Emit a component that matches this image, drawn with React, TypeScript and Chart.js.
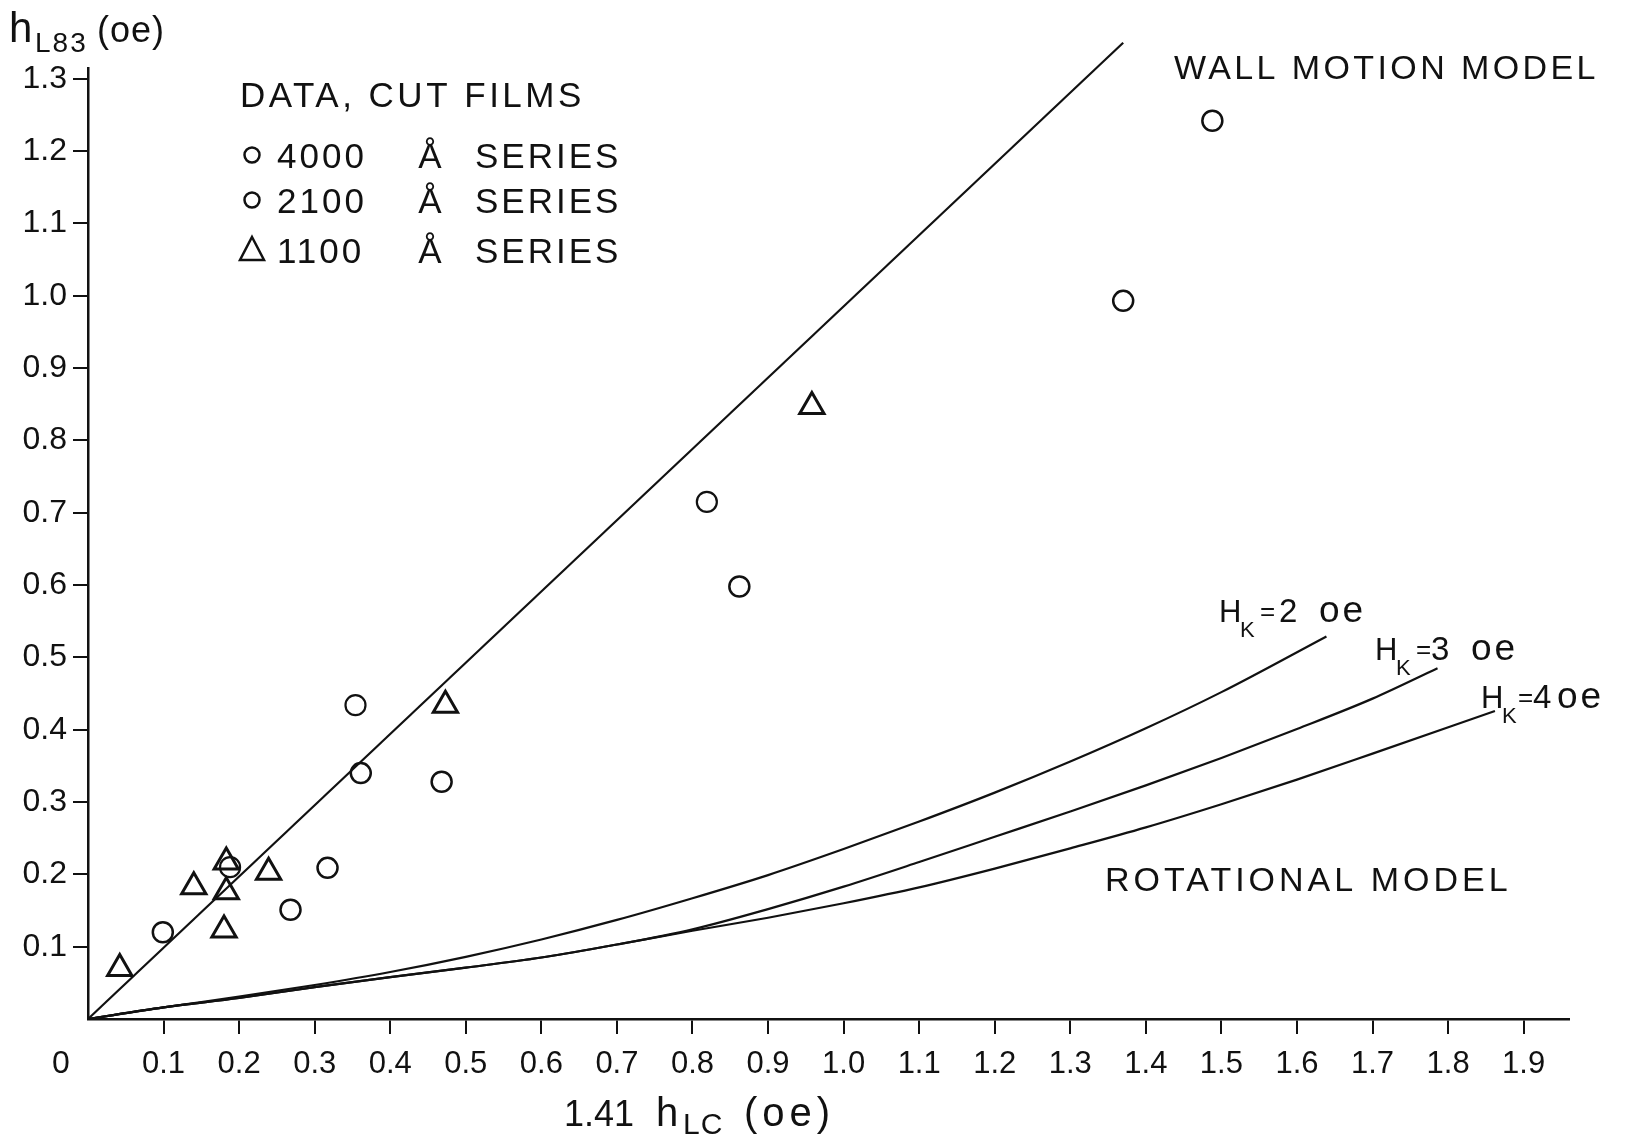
import { useEffect, useRef } from "react";
import { Chart, registerables } from "chart.js";

Chart.register(...registerables);

// Measured points, cut films
const series4000X = [0.099, 0.268, 0.317, 0.361, 0.468, 0.862, 1.37, 1.488];
const series4000Y = [0.12, 0.151, 0.209, 0.34, 0.328, 0.598, 0.993, 1.242];
const series2100X = [0.188, 0.354, 0.819];
const series2100Y = [0.21, 0.434, 0.715];
const series1100X = [0.042, 0.14, 0.183, 0.18, 0.183, 0.239, 0.473, 0.958];
const series1100Y = [0.07, 0.183, 0.176, 0.123, 0.217, 0.203, 0.434, 0.847];

// Wall motion model (straight line through the origin)
const wallMotionX = [0, 1.37];
const wallMotionY = [0, 1.35];

// Rotational model curves
const hk2X = [0, 0.1, 0.2, 0.3, 0.4, 0.5, 0.6, 0.7, 0.8, 0.9, 1.0, 1.1, 1.2, 1.3, 1.4, 1.5, 1.639];
const hk2Y = [0, 0.016, 0.031, 0.047, 0.065, 0.086, 0.11, 0.137, 0.167, 0.199, 0.235, 0.273, 0.313, 0.356, 0.402, 0.452, 0.529];
const hk3X = [0, 0.1, 0.2, 0.3, 0.4, 0.5, 0.6, 0.7, 0.8, 0.9, 1.0, 1.1, 1.2, 1.3, 1.4, 1.5, 1.6, 1.7, 1.786];
const hk3Y = [0, 0.016, 0.029, 0.044, 0.058, 0.071, 0.085, 0.103, 0.124, 0.152, 0.183, 0.217, 0.252, 0.287, 0.323, 0.361, 0.401, 0.443, 0.485];
const hk4X = [0, 0.1, 0.2, 0.3, 0.4, 0.5, 0.6, 0.7, 0.8, 0.9, 1.0, 1.1, 1.2, 1.3, 1.4, 1.5, 1.6, 1.7, 1.862];
const hk4Y = [0, 0.016, 0.029, 0.044, 0.058, 0.071, 0.085, 0.103, 0.122, 0.14, 0.16, 0.182, 0.208, 0.236, 0.265, 0.297, 0.331, 0.367, 0.426];

// Axis ticks
const xTickValues = [0.1, 0.2, 0.3, 0.4, 0.5, 0.6, 0.7, 0.8, 0.9, 1.0, 1.1, 1.2, 1.3, 1.4, 1.5, 1.6, 1.7, 1.8, 1.9];
const xTickLabels = ["0.1", "0.2", "0.3", "0.4", "0.5", "0.6", "0.7", "0.8", "0.9", "1.0", "1.1", "1.2", "1.3", "1.4", "1.5", "1.6", "1.7", "1.8", "1.9"];
const yTickValues = [0.1, 0.2, 0.3, 0.4, 0.5, 0.6, 0.7, 0.8, 0.9, 1.0, 1.1, 1.2, 1.3];
const yTickLabels = ["0.1", "0.2", "0.3", "0.4", "0.5", "0.6", "0.7", "0.8", "0.9", "1.0", "1.1", "1.2", "1.3"];

// Anisotropy field of each rotational curve
const hkValues = ["2", "3", "4"];

const FONT = "'Liberation Sans', 'DejaVu Sans', sans-serif";
const INK = "#111";

const pts = (xs: number[], ys: number[]) => xs.map((x, i) => ({ x, y: ys[i] }));

function text(
  ctx: CanvasRenderingContext2D,
  s: string,
  x: number,
  y: number,
  size: number,
  spacing = 0,
  align: CanvasTextAlign = "left"
) {
  ctx.font = `${size}px ${FONT}`;
  (ctx as any).letterSpacing = `${spacing}px`;
  ctx.textAlign = align;
  ctx.textBaseline = "alphabetic";
  ctx.fillText(s, x, y);
}

const figureText = {
  id: "figureText",
  afterDraw(chart: Chart) {
    const ctx = chart.ctx;
    ctx.save();
    ctx.fillStyle = INK;
    ctx.strokeStyle = INK;

    // y-axis title: h_L83 (oe)
    text(ctx, "h", 9, 42, 42);
    text(ctx, "L83", 35, 52, 28, 2);
    text(ctx, "(oe)", 97, 42, 36, 1);

    // x-axis title: 1.41 h_LC (oe)
    text(ctx, "1.41", 634, 1126, 36, 0, "right");
    text(ctx, "h", 656, 1126, 40);
    text(ctx, "LC", 683, 1134, 30, 1);
    text(ctx, "(oe)", 744, 1126, 40, 5);

    // origin label
    text(ctx, "0", 61, 1073, 32, 0, "center");

    // legend block
    text(ctx, "DATA, CUT FILMS", 240, 107, 35, 3.5);
    const rows = [
      { mark: "circle", num: "4000", y: 168 },
      { mark: "circle", num: "2100", y: 213 },
      { mark: "triangle", num: "1100", y: 263 },
    ];
    ctx.lineWidth = 2.5;
    rows.forEach((r) => {
      if (r.mark === "circle") {
        ctx.beginPath();
        ctx.arc(252, r.y - 13, 7.5, 0, Math.PI * 2);
        ctx.stroke();
      } else {
        ctx.beginPath();
        ctx.moveTo(252, r.y - 26);
        ctx.lineTo(264, r.y - 3);
        ctx.lineTo(240, r.y - 3);
        ctx.closePath();
        ctx.stroke();
      }
      text(ctx, r.num, 277, r.y, 35, 3);
      text(ctx, "Å", 430, r.y, 35, 0, "center");
      text(ctx, "SERIES", 475, r.y, 35, 3);
    });

    // model labels
    text(ctx, "WALL MOTION MODEL", 1174, 79, 34, 3.4);
    text(ctx, "ROTATIONAL MODEL", 1105, 891, 34, 4);

    // anisotropy field labels
    const hk = [
      { x: 1219, y: 622, eq: 41, num: 60, unit: 100 },
      { x: 1375, y: 660, eq: 41, num: 56, unit: 96 },
      { x: 1481, y: 708, eq: 37, num: 52, unit: 76 },
    ];
    hk.forEach((h, i) => {
      text(ctx, "H", h.x, h.y, 31);
      text(ctx, "K", h.x + 21, h.y + 15, 22);
      text(ctx, "=", h.x + h.eq, h.y - 2, 26);
      text(ctx, hkValues[i], h.x + h.num, h.y, 33);
      text(ctx, "oe", h.x + h.unit, h.y, 37, 3);
    });

    ctx.restore();
  },
};

export default function App() {
  const ref = useRef<HTMLCanvasElement>(null);

  useEffect(() => {
    const canvas = ref.current;
    if (!canvas) return;

    const curve = (label: string, xs: number[], ys: number[]) => ({
      label,
      data: pts(xs, ys),
      showLine: true,
      pointRadius: 0,
      borderColor: INK,
      borderWidth: 2.2,
      cubicInterpolationMode: "monotone" as const,
      fill: false,
    });

    const chart = new Chart(canvas, {
      type: "scatter",
      data: {
        datasets: [
          {
            ...curve("Wall motion model", wallMotionX, wallMotionY),
            clip: false,
          } as any,
          curve("H_K = 2 oe", hk2X, hk2Y),
          curve("H_K = 3 oe", hk3X, hk3Y),
          curve("H_K = 4 oe", hk4X, hk4Y),
          {
            label: "4000 Å series",
            data: pts(series4000X, series4000Y),
            pointStyle: "circle",
            pointRadius: 10,
            pointBorderWidth: 2.5,
            pointBorderColor: INK,
            pointBackgroundColor: "rgba(0,0,0,0)",
          },
          {
            label: "2100 Å series",
            data: pts(series2100X, series2100Y),
            pointStyle: "circle",
            pointRadius: 10,
            pointBorderWidth: 2.2,
            pointBorderColor: INK,
            pointBackgroundColor: "rgba(0,0,0,0)",
          },
          {
            label: "1100 Å series",
            data: pts(series1100X, series1100Y),
            pointStyle: "triangle",
            pointRadius: 14,
            pointBorderWidth: 3,
            pointBorderColor: INK,
            pointBackgroundColor: "rgba(0,0,0,0)",
          },
        ],
      },
      options: {
        responsive: false,
        animation: false,
        events: [],
        layout: { padding: { left: 0, top: 68, right: 78, bottom: 0 } },
        plugins: {
          legend: { display: false },
          tooltip: { enabled: false },
        },
        scales: {
          x: {
            type: "linear",
            min: 0,
            max: 1.96,
            afterBuildTicks: (scale: any) => {
              scale.ticks = xTickValues.map((value) => ({ value }));
            },
            afterFit: (scale: any) => {
              scale.height = 117;
            },
            ticks: {
              autoSkip: false,
              maxRotation: 0,
              padding: 12,
              color: INK,
              font: { family: FONT, size: 31 },
              callback: (_v: any, i: number) => xTickLabels[i],
            },
            grid: {
              drawOnChartArea: false,
              drawTicks: true,
              tickLength: 15,
              color: INK,
              lineWidth: 2,
            },
            border: { display: true, color: INK, width: 2.5 },
          },
          y: {
            type: "linear",
            min: 0,
            max: 1.315,
            afterBuildTicks: (scale: any) => {
              scale.ticks = yTickValues.map((value) => ({ value }));
            },
            afterFit: (scale: any) => {
              scale.width = 88;
            },
            ticks: {
              autoSkip: false,
              padding: 6,
              color: INK,
              font: { family: FONT, size: 32 },
              callback: (_v: any, i: number) => yTickLabels[i],
            },
            grid: {
              drawOnChartArea: false,
              drawTicks: true,
              tickLength: 15,
              color: INK,
              lineWidth: 2,
            },
            border: { display: true, color: INK, width: 2.5 },
          },
        },
      },
      plugins: [figureText],
    });

    return () => chart.destroy();
  }, []);

  return (
    <div style={{ position: "absolute", left: 0, top: 0, width: 1647, height: 1136, background: "#fff" }}>
      <canvas ref={ref} width={1647} height={1136} style={{ display: "block", width: 1647, height: 1136 }} />
    </div>
  );
}
